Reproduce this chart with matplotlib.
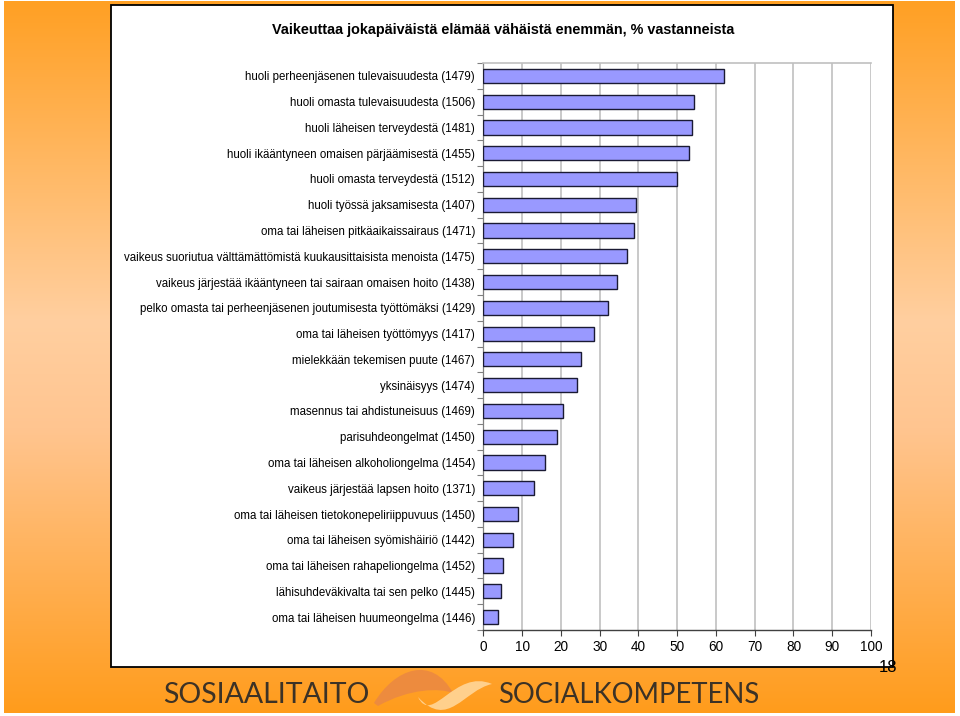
import matplotlib
matplotlib.use("Agg")
import matplotlib.pyplot as plt
import numpy as np
from matplotlib.patches import Rectangle, PathPatch
from matplotlib.path import Path
from matplotlib.colors import LinearSegmentedColormap

title = "Vaikeuttaa jokapäiväistä elämää vähäistä enemmän, % vastanneista"
categories = [
    "huoli perheenjäsenen tulevaisuudesta (1479)",
    "huoli omasta tulevaisuudesta (1506)",
    "huoli läheisen terveydestä (1481)",
    "huoli ikääntyneen omaisen pärjäämisestä (1455)",
    "huoli omasta terveydestä (1512)",
    "huoli työssä jaksamisesta (1407)",
    "oma tai läheisen pitkäaikaissairaus (1471)",
    "vaikeus suoriutua välttämättömistä kuukausittaisista menoista (1475)",
    "vaikeus järjestää ikääntyneen tai sairaan omaisen hoito (1438)",
    "pelko omasta tai perheenjäsenen joutumisesta työttömäksi (1429)",
    "oma tai läheisen työttömyys (1417)",
    "mielekkään tekemisen puute (1467)",
    "yksinäisyys (1474)",
    "masennus tai ahdistuneisuus (1469)",
    "parisuhdeongelmat (1450)",
    "oma tai läheisen alkoholiongelma (1454)",
    "vaikeus järjestää lapsen hoito (1371)",
    "oma tai läheisen tietokonepeliriippuvuus (1450)",
    "oma tai läheisen syömishäiriö (1442)",
    "oma tai läheisen rahapeliongelma (1452)",
    "lähisuhdeväkivalta tai sen pelko (1445)",
    "oma tai läheisen huumeongelma (1446)",
]
values = [62.2, 54.4, 53.8, 53.1, 50.0, 39.3, 38.9, 37.1, 34.6, 32.1, 28.5,
          25.2, 24.1, 20.5, 19.1, 15.9, 13.1, 8.9, 7.7, 5.1, 4.5, 3.7]
xticks = [0, 10, 20, 30, 40, 50, 60, 70, 80, 90, 100]
footer_left = "SOSIAALITAITO"
footer_right = "SOCIALKOMPETENS"
page_no = "18"

W, H = 960, 716
fig = plt.figure(figsize=(W / 100, H / 100), dpi=100)
fig.patch.set_facecolor("white")

# background layer in pixel coordinates
bg = fig.add_axes([0, 0, 1, 1], zorder=0)
bg.set_xlim(0, W)
bg.set_ylim(H, 0)
bg.axis("off")
cmap = LinearSegmentedColormap.from_list(
    "bgo", [(0, "#FFA024"), (0.45, "#FFCFA0"), (0.6, "#FFC590"), (1.0, "#FF9C1C")])
grad = np.linspace(0, 1, 256).reshape(-1, 1)
bg.imshow(grad, cmap=cmap, aspect="auto", extent=(4, 955, 713, 1), zorder=0)
bg.add_patch(Rectangle((111, 5), 782, 662, facecolor="white",
                       edgecolor="black", linewidth=1.3, zorder=1))

bg.text(503, 30, title, ha="center", va="center", fontsize=10.4,
        fontweight="bold", family="Liberation Sans", zorder=2)

# footer
bg.text(163, 695, footer_left, ha="left", va="center", fontsize=20.5,
        family="Lato", color="#3C3226", zorder=2)
bg.text(498, 695, footer_right, ha="left", va="center", fontsize=19.8,
        family="Lato", color="#3C3226", zorder=2)
bg.text(888, 667, page_no, ha="center", va="center", fontsize=12,
        family="Liberation Sans", color="black", zorder=3)

# logo swooshes
C = [Path.MOVETO] + [Path.CURVE4] * 6 + [Path.CLOSEPOLY]
dark = Path([(374, 703), (395, 668), (432, 655), (453, 693),
             (440, 688), (410, 688), (378, 706), (374, 703)], C)
bg.add_patch(PathPatch(dark, facecolor="#EC8A40", edgecolor="none", alpha=0.95, zorder=2))
light = Path([(418, 697), (432, 726), (455, 668), (492, 684),
              (464, 690), (448, 730), (418, 697), (418, 697)], C)
bg.add_patch(PathPatch(light, facecolor="#FFD393", edgecolor="none", alpha=0.95, zorder=2))

# main chart
left, right, top, bottom = 483.3, 871, 63, 630
ax = fig.add_axes([left / W, 1 - bottom / H, (right - left) / W, (bottom - top) / H],
                  zorder=1)
ax.set_facecolor("white")
y = np.arange(len(categories))
ax.barh(y, values, height=0.55, color="#9999FF", edgecolor="#1A1A33",
        linewidth=1.0, zorder=3)
ax.set_xlim(0, 100)
ax.set_ylim(len(categories) - 0.5, -0.5)
ax.set_xticks(xticks)
ax.set_xticklabels([str(t) for t in xticks], family="Liberation Sans", fontsize=9.8)
ax.set_yticks(y)
ax.set_yticklabels(categories, family="Liberation Sans", fontsize=8.3)
ax.set_yticks(np.arange(len(categories) + 1) - 0.5, minor=True)
ax.tick_params(axis="y", which="major", length=0, pad=6)
ax.tick_params(axis="y", which="minor", length=4, color="#808080", width=0.8)
ax.tick_params(axis="x", which="major", length=4, color="#404040", width=0.8, pad=3)
for xv in xticks[1:]:
    ax.axvline(xv, color="#C0C0C0", linewidth=1.2, zorder=1)
ax.spines["top"].set_color("#C0C0C0")
ax.spines["top"].set_linewidth(1.2)
ax.spines["right"].set_visible(False)
ax.spines["left"].set_color("#808080")
ax.spines["left"].set_linewidth(0.9)
ax.spines["bottom"].set_color("#404040")
ax.spines["bottom"].set_linewidth(1.0)

fig.savefig("out.png", dpi=100, facecolor=fig.get_facecolor())
